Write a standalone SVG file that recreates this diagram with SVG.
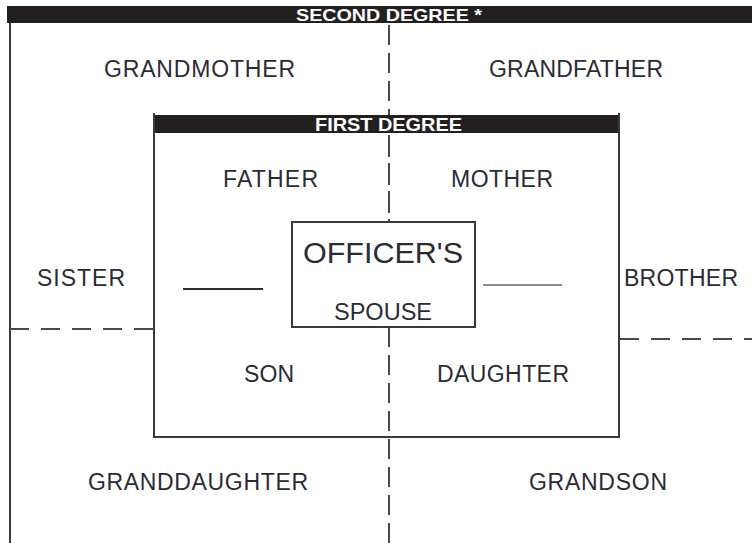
<svg xmlns="http://www.w3.org/2000/svg" width="752" height="543" viewBox="0 0 752 543">
<style>
.bg{fill:#ffffff}
.bar{fill:#231f20}
.frame{fill:none;stroke:#3a3a3a;stroke-width:2}
.box{fill:#ffffff;stroke:#3a3a3a;stroke-width:2}
.dash{fill:none;stroke:#4a4a4a;stroke-width:2;stroke-dasharray:20 8}
.hdash{fill:none;stroke:#4a4a4a;stroke-width:2;stroke-dasharray:19 12}
.solid{fill:none;stroke:#2e2e2e;stroke-width:2}
.gray{fill:none;stroke:#8a8a8a;stroke-width:2}
.lbl{font-family:"Liberation Sans",Arial,sans-serif;font-size:23px;fill:#2b2b36}
.big{font-family:"Liberation Sans",Arial,sans-serif;font-size:29px;fill:#2b2b36}
.hdr{font-family:"Liberation Sans",Arial,sans-serif;font-weight:bold;fill:#ffffff}
</style>
<rect class="bg" x="0" y="0" width="752" height="543"/>

<g id="second-degree">
  <rect class="bar" x="7" y="6" width="745" height="17"/>
  <line class="frame" x1="10" y1="23" x2="10" y2="543"/>
  <text class="hdr" x="296" y="21" font-size="17" textLength="186" lengthAdjust="spacingAndGlyphs">SECOND DEGREE *</text>
</g>

<g id="connectors">
  <line class="dash" x1="389" y1="23" x2="389" y2="222" stroke-dashoffset="-2"/>
  <line class="dash" x1="389" y1="327" x2="389" y2="543"/>
  <line class="hdash" x1="10" y1="329" x2="154" y2="329"/>
  <line class="hdash" x1="620" y1="339" x2="752" y2="339"/>
  <line class="solid" x1="183" y1="289" x2="263" y2="289"/>
  <line class="gray" x1="483" y1="285" x2="562" y2="285"/>
</g>

<g id="first-degree">
  <rect class="bar" x="154" y="115" width="465" height="18"/>
  <path class="frame" d="M154,113 V437 H619 V113"/>
  <text class="hdr" x="315" y="131" font-size="18" textLength="147" lengthAdjust="spacingAndGlyphs">FIRST DEGREE</text>
</g>

<g id="dashed-overlay">
  <line class="dash" x1="389" y1="133" x2="389" y2="222" stroke-dashoffset="-2"/>
</g>

<g id="officer-spouse">
  <rect class="box" x="292" y="222" width="183" height="105"/>
  <text class="big" x="303" y="263" textLength="160" lengthAdjust="spacingAndGlyphs">OFFICER'S</text>
  <text class="lbl" x="334" y="320" textLength="98" lengthAdjust="spacingAndGlyphs">SPOUSE</text>
</g>

<g id="grandmother"><text class="lbl" x="104" y="77" textLength="191" lengthAdjust="spacing">GRANDMOTHER</text></g>
<g id="grandfather"><text class="lbl" x="489" y="77" textLength="174" lengthAdjust="spacing">GRANDFATHER</text></g>
<g id="father"><text class="lbl" x="223" y="187" textLength="95" lengthAdjust="spacing">FATHER</text></g>
<g id="mother"><text class="lbl" x="451" y="187" textLength="102" lengthAdjust="spacing">MOTHER</text></g>
<g id="sister"><text class="lbl" x="37" y="286" textLength="88" lengthAdjust="spacing">SISTER</text></g>
<g id="brother"><text class="lbl" x="624" y="286" textLength="114" lengthAdjust="spacing">BROTHER</text></g>
<g id="son"><text class="lbl" x="244" y="382" textLength="50" lengthAdjust="spacing">SON</text></g>
<g id="daughter"><text class="lbl" x="437" y="382" textLength="132" lengthAdjust="spacing">DAUGHTER</text></g>
<g id="granddaughter"><text class="lbl" x="88" y="490" textLength="220" lengthAdjust="spacing">GRANDDAUGHTER</text></g>
<g id="grandson"><text class="lbl" x="529" y="490" textLength="138" lengthAdjust="spacing">GRANDSON</text></g>
</svg>
